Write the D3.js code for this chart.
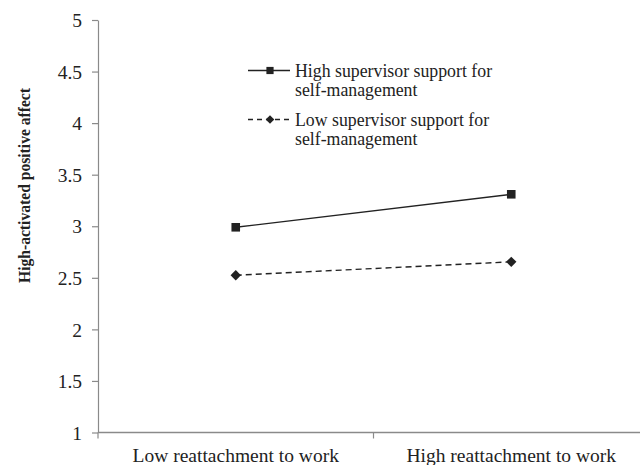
<!DOCTYPE html>
<html><head><meta charset="utf-8">
<script src="https://cdn.jsdelivr.net/npm/d3@7/dist/d3.min.js"></script>
<style>body{margin:0;background:#fff}svg{display:block}</style>
</head><body><div id="chart"></div>
<script>
const categories = ["Low reattachment to work", "High reattachment to work"];
const highSupport = [2.99, 3.31];
const lowSupport = [2.525, 2.655];
const yTicks = [1, 1.5, 2, 2.5, 3, 3.5, 4, 4.5, 5];
const yTickLabels = ["1", "1.5", "2", "2.5", "3", "3.5", "4", "4.5", "5"];
const seriesNames = ["High supervisor support for|self-management", "Low supervisor support for|self-management"];
const yTitle = "High-activated positive affect";

const W = 640, H = 465;
const svg = d3.select("#chart").append("svg").attr("width", W).attr("height", H);
const font = "'Liberation Serif','Times New Roman',serif";
const axisColor = "#8a8a8a", ink = "#222";

const x = d3.scaleBand().domain(categories).range([98, 649]);
const y = d3.scaleLinear().domain([1, 5]).range([432.5, 20]);

// y axis
const yAxis = svg.append("g").attr("transform", "translate(98,0)")
  .call(d3.axisLeft(y).tickValues(yTicks).tickSize(6).tickSizeOuter(0)
    .tickFormat((d, i) => yTickLabels[i]));
yAxis.select(".domain").attr("stroke", axisColor).attr("stroke-width", 1.2);
yAxis.selectAll(".tick line").attr("stroke", axisColor).attr("stroke-width", 1.2);
yAxis.selectAll(".tick text").attr("font-family", font).attr("font-size", 19.5)
  .attr("fill", ink).attr("x", -16).attr("dy", "0.34em");

// x axis (Excel style, ticks at category boundaries)
const xg = svg.append("g");
xg.append("line").attr("x1", x.range()[0]).attr("x2", x.range()[1])
  .attr("y1", y(1)).attr("y2", y(1)).attr("stroke", axisColor).attr("stroke-width", 1.4);
const bounds = categories.map(c => x(c)).concat([x(categories[categories.length - 1]) + x.bandwidth()]);
xg.selectAll("line.tk").data(bounds).join("line").attr("class", "tk")
  .attr("x1", d => d).attr("x2", d => d).attr("y1", y(1)).attr("y2", y(1) + 6)
  .attr("stroke", axisColor).attr("stroke-width", 1.2);
xg.selectAll("text").data(categories).join("text")
  .attr("x", d => x(d) + x.bandwidth() / 2).attr("y", 462)
  .attr("text-anchor", "middle").attr("font-family", font).attr("font-size", 19.5)
  .attr("fill", ink).text(d => d);

// y title
svg.append("text").attr("transform", "translate(30,185.5) rotate(-90)")
  .attr("text-anchor", "middle").attr("font-family", font).attr("font-size", 17.5)
  .attr("font-weight", "bold").attr("fill", ink)
  .attr("textLength", 195).attr("lengthAdjust", "spacingAndGlyphs").text(yTitle);

const cx = d => x(d) + x.bandwidth() / 2;
const line = d3.line().x(d => cx(d.c)).y(d => y(d.v));
const series = [
  { vals: highSupport, dash: null, shape: "square" },
  { vals: lowSupport, dash: "6,4", shape: "diamond" }
];
const symbolPath = (shape, r) => shape === "square"
  ? `M${-r},${-r}H${r}V${r}H${-r}Z`
  : `M0,${-r}L${r},0L0,${r}L${-r},0Z`;

series.forEach(s => {
  const pts = categories.map((c, i) => ({ c, v: s.vals[i] }));
  svg.append("path").datum(pts).attr("d", line).attr("fill", "none")
    .attr("stroke", ink).attr("stroke-width", 1.4)
    .attr("stroke-dasharray", s.dash);
  svg.selectAll(null).data(pts).join("path")
    .attr("transform", d => `translate(${cx(d.c)},${y(d.v)})`)
    .attr("d", symbolPath(s.shape, s.shape === "square" ? 4.3 : 5.2))
    .attr("fill", ink);
});

// legend
const legY = [70.5, 119.5];
series.forEach((s, i) => {
  const g = svg.append("g").attr("transform", `translate(0,${legY[i]})`);
  g.append("line").attr("x1", 248).attr("x2", 290).attr("y1", 0).attr("y2", 0)
    .attr("stroke", ink).attr("stroke-width", 1.4).attr("stroke-dasharray", s.dash ? "5,4" : null);
  g.append("path").attr("transform", "translate(270,0)")
    .attr("d", symbolPath(s.shape, s.shape === "square" ? 3.6 : 4.3)).attr("fill", ink);
  const lines = seriesNames[i].split("|");
  lines.forEach((t, j) => {
    g.append("text").attr("x", 295).attr("y", 6 + j * 19)
      .attr("font-family", font).attr("font-size", 17.8).attr("fill", ink).text(t);
  });
});
</script></body></html>
